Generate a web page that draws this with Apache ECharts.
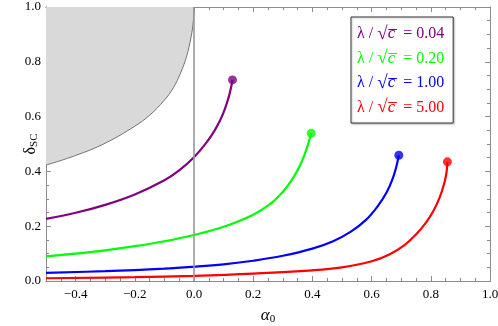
<!DOCTYPE html>
<html>
<head>
<meta charset="utf-8">
<script src="https://cdn.jsdelivr.net/npm/echarts@6/dist/echarts.min.js"></script>
<style>html,body{margin:0;padding:0;background:#fff}</style>
</head>
<body>
<div id="main" style="width:498px;height:326px"></div>
<script>
// tick labels
var xTicks = [-0.4, -0.2, 0, 0.2, 0.4, 0.6, 0.8, 1.0];
var yTicks = [0, 0.2, 0.4, 0.6, 0.8, 1.0];

// λ/√c values and colours
var ratios = ['0.04', '0.20', '1.00', '5.00'];
var colors = ['#800080', '#00ff00', '#0000ff', '#ff0000'];

// [alpha0, deltaSC]
var curve004 = [[-0.5, 0.227], [-0.4, 0.249], [-0.3, 0.278], [-0.2, 0.316], [-0.1, 0.368], [-0.05, 0.404],
    [0, 0.452], [0.04, 0.502], [0.07, 0.550], [0.09, 0.590], [0.105, 0.630], [0.117, 0.670], [0.125, 0.705], [0.13, 0.734]];
var curve020 = [[-0.5, 0.090], [-0.4, 0.100], [-0.3, 0.112], [-0.2, 0.127], [-0.1, 0.145], [0, 0.168],
    [0.1, 0.198], [0.2, 0.242], [0.26, 0.283], [0.3, 0.325], [0.33, 0.368], [0.355, 0.415], [0.372, 0.457], [0.385, 0.498], [0.396, 0.539]];
var curve100 = [[-0.5, 0.030], [-0.3, 0.036], [-0.1, 0.045], [0, 0.052], [0.1, 0.061], [0.2, 0.074], [0.3, 0.092],
    [0.4, 0.118], [0.47, 0.145], [0.53, 0.180], [0.58, 0.222], [0.62, 0.272], [0.65, 0.322], [0.67, 0.370], [0.683, 0.415], [0.692, 0.459]];
var curve500 = [[-0.5, 0.010], [-0.2, 0.014], [0, 0.019], [0.2, 0.027], [0.4, 0.039], [0.5, 0.050], [0.6, 0.072],
    [0.66, 0.097], [0.71, 0.130], [0.75, 0.170], [0.785, 0.215], [0.81, 0.258], [0.83, 0.305], [0.845, 0.355], [0.853, 0.395], [0.856, 0.435]];

// boundary of the shaded region
var shaded = [[-0.5, 0.423], [-0.4, 0.458], [-0.3, 0.503], [-0.2, 0.565], [-0.15, 0.605], [-0.1, 0.660],
    [-0.07, 0.705], [-0.045, 0.760], [-0.025, 0.820], [-0.01, 0.890], [-0.002, 0.950], [0, 1.0]];

var curves = [curve004, curve020, curve100, curve500];
var serif = "'Liberation Serif', 'DejaVu Serif', serif";
var frame = '#8c8c8c';

var names = ratios.map(function (r) { return 'λ / √c = ' + r; });

function fmt(v) {
    var s = v.toFixed(1);
    return s.replace('-', '\u2212');
}

var chart = echarts.init(document.getElementById('main'));

function axisX(pos, major, labels) {
    return {
        type: 'value', min: -0.5, max: 1.0, position: pos,
        interval: 0.05,
        axisLine: { show: true, onZero: false, lineStyle: { color: frame, width: 1 } },
        axisTick: major ? { inside: true, length: 5, customValues: xTicks, lineStyle: { color: frame } }
                        : { inside: true, length: 3, lineStyle: { color: frame } },
        axisLabel: labels ? { customValues: xTicks, formatter: fmt, color: '#000', fontFamily: serif, fontSize: 13, margin: 7 }
                          : { show: false },
        splitLine: { show: false }
    };
}
function axisY(pos, major, labels) {
    return {
        type: 'value', min: 0, max: 1.0, position: pos,
        interval: 0.05,
        axisLine: { show: true, onZero: false, lineStyle: { color: frame, width: 1 } },
        axisTick: major ? { inside: true, length: 5, customValues: yTicks, lineStyle: { color: frame } }
                        : { inside: true, length: 3, lineStyle: { color: frame } },
        axisLabel: labels ? { customValues: yTicks, formatter: fmt, color: '#000', fontFamily: serif, fontSize: 13, margin: 5 }
                          : { show: false },
        splitLine: { show: false }
    };
}

var xs = [axisX('bottom', true, true), axisX('bottom', false, false), axisX('top', true, false), axisX('top', false, false)];
xs[0].name = '{a|α}{s|0}';
xs[0].nameLocation = 'middle';
xs[0].nameGap = 25;
xs[0].nameMoveOverlap = false;
xs[0].nameTextStyle = {
    verticalAlign: 'top',
    rich: {
        a: { fontFamily: serif, fontStyle: 'italic', fontSize: 17, color: '#000' },
        s: { fontFamily: serif, fontSize: 11, color: '#000', padding: [8, 0, 0, 0] }
    }
};
var ys = [axisY('left', true, true), axisY('left', false, false), axisY('right', true, false), axisY('right', false, false)];
ys[0].name = '{d|δ}{s|SC}';
ys[0].nameLocation = 'middle';
ys[0].nameRotate = 90;
ys[0].nameGap = 6;
ys[0].nameMoveOverlap = false;
ys[0].nameTextStyle = {
    rich: {
        d: { fontFamily: serif, fontSize: 16, color: '#000' },
        s: { fontFamily: serif, fontSize: 11, color: '#000', padding: [8, 0, 0, 0] }
    }
};

var series = [{
    type: 'line',
    data: shaded,
    smooth: 0.4,
    symbol: 'none',
    silent: true,
    z: 1,
    lineStyle: { color: '#555', width: 0.8 },
    areaStyle: { origin: 'end', color: '#d9d9d9', opacity: 1 },
    markLine: {
        silent: true,
        symbol: 'none',
        label: { show: false },
        lineStyle: { color: '#999', width: 1.6, type: 'solid' },
        data: [{ xAxis: 0 }]
    }
}];

curves.forEach(function (c, i) {
    series.push({
        name: names[i],
        type: 'line',
        data: c,
        smooth: 0.4,
        symbol: 'none',
        z: 3,
        lineStyle: { color: colors[i], width: 2.2 },
        itemStyle: { color: colors[i] }
    });
    series.push({
        name: names[i],
        type: 'scatter',
        data: [c[c.length - 1]],
        symbolSize: 9,
        z: 4,
        itemStyle: { color: colors[i] }
    });
});

chart.setOption({
    animation: false,
    grid: { left: 46, right: 8, top: 7, bottom: 45, containLabel: false, outerBoundsMode: 'none' },
    xAxis: xs,
    yAxis: ys,
    legend: {
        orient: 'vertical',
        left: 351,
        top: 17,
        padding: [7, 9, 6, 1],
        itemGap: 5,
        itemWidth: 0,
        itemHeight: 20,
        icon: 'none',
        backgroundColor: '#fff',
        borderColor: '#333',
        borderWidth: 1,
        shadowColor: 'rgba(0,0,0,0.25)',
        shadowBlur: 2,
        shadowOffsetX: 1,
        shadowOffsetY: 1,
        selectedMode: false,
        data: names.map(function (n, i) { return { name: n, textStyle: { color: colors[i] } }; }),
        formatter: function (name) {
            var r = name.split('= ')[1];
            return '{n|λ / }{r|√}{c|c\u0305}{n|  = ' + r + '}';
        },
        textStyle: {
            fontFamily: serif,
            fontSize: 16,
            rich: {
                n: { fontFamily: serif, fontSize: 16, lineHeight: 20 },
                r: { fontFamily: serif, fontSize: 19, lineHeight: 20 },
                c: { fontFamily: serif, fontStyle: 'italic', fontSize: 17, lineHeight: 20 }
            }
        }
    },
    series: series
});
</script>
</body>
</html>
